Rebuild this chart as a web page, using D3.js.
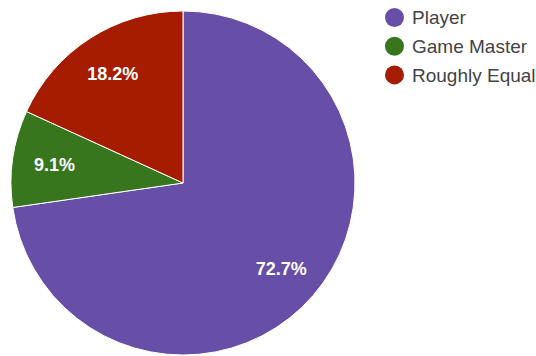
<!DOCTYPE html>
<html>
<head>
<meta charset="utf-8">
<script src="https://cdn.jsdelivr.net/npm/d3@7"></script>
<style>
  html, body { margin: 0; padding: 0; background: #fff; }
  svg { display: block; font-family: Arial, "Liberation Sans", sans-serif; }
</style>
</head>
<body>
<svg id="chart" width="536" height="356"></svg>
<script>
// Answer categories and their response counts
const categories = ["Player", "Game Master", "Roughly Equal"];
const counts = [8, 1, 2];
const colors = ["#674ea7", "#38761d", "#a61c00"];

const svg = d3.select("#chart");
const cx = 183, cy = 183, radius = 172;

const data = categories.map((c, i) => ({ name: c, value: counts[i], color: colors[i] }));
const total = d3.sum(counts);

const pie = d3.pie().value(d => d.value).sort(null);
const arc = d3.arc().innerRadius(0).outerRadius(radius);
const labelArc = d3.arc().innerRadius(radius * 0.755).outerRadius(radius * 0.755);

const g = svg.append("g").attr("transform", `translate(${cx},${cy})`);
const arcs = pie(data);

g.selectAll("path.slice")
  .data(arcs)
  .join("path")
  .attr("class", "slice")
  .attr("d", arc)
  .attr("fill", d => d.data.color)
  .attr("stroke", "#fff")
  .attr("stroke-width", 1);

g.selectAll("text.pct")
  .data(arcs)
  .join("text")
  .attr("class", "pct")
  .attr("transform", d => `translate(${labelArc.centroid(d)})`)
  .attr("text-anchor", "middle")
  .attr("dy", "0.36em")
  .attr("fill", "#fff")
  .attr("font-size", 18)
  .attr("font-weight", "bold")
  .text(d => (d.data.value / total * 100).toFixed(1) + "%");

// Legend
const legend = svg.append("g").attr("transform", "translate(394.5,17.5)");
const rows = legend.selectAll("g.row")
  .data(data)
  .join("g")
  .attr("class", "row")
  .attr("transform", (d, i) => `translate(0,${i * 28.7})`);

rows.append("circle")
  .attr("r", 9.5)
  .attr("fill", d => d.color);

rows.append("text")
  .attr("x", 17.5)
  .attr("dy", "0.36em")
  .attr("font-size", 19)
  .attr("fill", "#444")
  .text(d => d.name);
</script>
</body>
</html>
